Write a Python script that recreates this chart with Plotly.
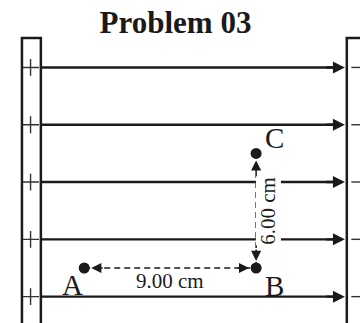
import plotly.graph_objects as go

# ---- DATA (cm) ----
field_y = [-1.5, 1.5, 4.5, 7.5, 10.5]
point_names = ['A', 'B', 'C']
point_x = [0.0, 9.0, 9.0]
point_y = [0.0, 0.0, 6.0]
dist_labels = ['9.00 cm', '6.00 cm']
title_text = 'Problem 03'

# ---- LAYOUT CONSTANTS ----
X_RANGE = [-4.41, 14.44]
Y_RANGE = [-2.88, 14.03]
LEFT_OUT, LEFT_IN = -3.26, -2.27
RIGHT_PLATE = 13.75
PLATE_TOP = 12.04
TIP_X = 13.65
PLUS_X, MINUS_X = -2.81, 14.28
INK = '#1a1a1a'
SERIF = 'Liberation Serif, Times New Roman, serif'

fig = go.Figure()

# field lines
for fy in field_y:
    fig.add_trace(go.Scatter(x=[LEFT_IN, TIP_X - 0.3], y=[fy, fy], mode='lines',
                             line=dict(color=INK, width=2.4), hoverinfo='skip'))

# dashed distance lines A-B and B-C
fig.add_trace(go.Scatter(x=[point_x[0], point_x[1]], y=[point_y[0], point_y[1]], mode='lines',
                         line=dict(color=INK, width=1.5, dash='6px,4px'), hoverinfo='skip'))
fig.add_trace(go.Scatter(x=[point_x[1], point_x[2]], y=[point_y[1], point_y[2]], mode='lines',
                         line=dict(color=INK, width=1.5, dash='6px,4px'), hoverinfo='skip'))

# charges on plates
fig.add_trace(go.Scatter(x=[PLUS_X] * len(field_y), y=field_y, mode='markers',
                         marker=dict(symbol='cross-thin', size=12, line=dict(color='#333', width=1.4)),
                         hoverinfo='skip'))
fig.add_trace(go.Scatter(x=[MINUS_X] * len(field_y), y=field_y, mode='markers',
                         marker=dict(symbol='line-ew', size=8, line=dict(color='#333', width=1.4)),
                         hoverinfo='skip'))

# points
fig.add_trace(go.Scatter(x=point_x, y=point_y, mode='markers',
                         marker=dict(color=INK, size=11), hoverinfo='skip'))

# plates
fig.add_shape(type='rect', x0=LEFT_OUT, x1=LEFT_IN, y0=-5, y1=PLATE_TOP,
              line=dict(color=INK, width=2.5))
fig.add_shape(type='rect', x0=RIGHT_PLATE, x1=17, y0=-5, y1=PLATE_TOP,
              line=dict(color=INK, width=2.5))

ann = []
# field arrowheads
for fy in field_y:
    ann.append(dict(x=TIP_X, y=fy, ax=-20, ay=0, text='', showarrow=True,
                    arrowhead=2, arrowwidth=2.4, arrowsize=1.0, arrowcolor=INK))

# dashed arrow heads
head = dict(text='', showarrow=True, arrowhead=2, arrowwidth=1.5, arrowsize=1.35,
            arrowcolor=INK, standoff=7)
ann.append(dict(x=point_x[0], y=point_y[0], ax=20, ay=0, **head))
ann.append(dict(x=point_x[1], y=point_y[1], ax=-20, ay=0, **head))
ann.append(dict(x=point_x[1], y=point_y[1], ax=0, ay=-20, **head))
ann.append(dict(x=point_x[2], y=point_y[2], ax=0, ay=20, **head))

# point labels
label_shift = {'A': (-12, -17), 'B': (18, -18), 'C': (18, 15)}
for name, px, py in zip(point_names, point_x, point_y):
    dx, dy = label_shift[name]
    ann.append(dict(x=px, y=py, text=name, showarrow=False, xshift=dx, yshift=dy,
                    font=dict(family=SERIF, size=29, color=INK)))

# distance labels
ann.append(dict(x=(point_x[0] + point_x[1]) / 2, y=point_y[0], text=dist_labels[0],
                showarrow=False, yshift=-13, font=dict(family=SERIF, size=21, color=INK)))
ann.append(dict(x=point_x[1], y=(point_y[1] + point_y[2]) / 2, text=dist_labels[1],
                showarrow=False, xshift=12, textangle=-90, bgcolor='white', borderpad=0,
                font=dict(family=SERIF, size=21, color=INK)))

fig.update_layout(
    width=360, height=323,
    margin=dict(l=0, r=0, t=0, b=0),
    paper_bgcolor='white', plot_bgcolor='white',
    showlegend=False,
    xaxis=dict(range=X_RANGE, visible=False, fixedrange=True),
    yaxis=dict(range=Y_RANGE, visible=False, fixedrange=True),
    annotations=ann,
    title=dict(text='<b>' + title_text + '</b>', x=0.4875, xanchor='center',
               y=1 - 22 / 323, yanchor='middle', yref='container',
               font=dict(family=SERIF, size=31, color=INK)),
)

fig.write_html('out.html', config={'displayModeBar': False},
               post_script="document.body.style.margin='0';")
